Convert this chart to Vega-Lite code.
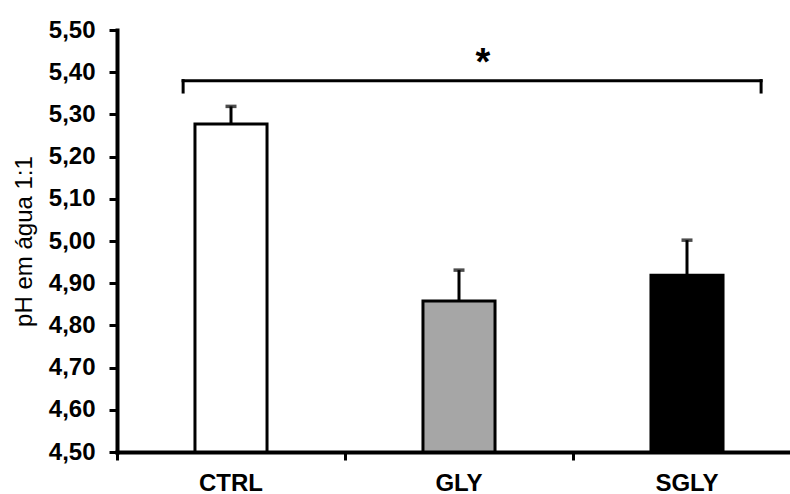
{
  "$schema": "https://vega.github.io/schema/vega-lite/v6.json",
  "width": 673,
  "height": 422,
  "autosize": {"type": "none"},
  "padding": {"left": 117, "top": 30, "right": 0, "bottom": 42},
  "background": "white",
  "config": {
    "view": {"stroke": null},
    "font": "Liberation Sans",
    "locale": {"number": {"decimal": ",", "thousands": ".", "grouping": [3], "currency": ["R$", ""]}},
    "axis": {
      "domainColor": "black", "domainWidth": 4, "domainCap": "square",
      "tickColor": "black", "tickWidth": 3, "tickSize": 8,
      "labelFont": "Liberation Sans", "labelFontSize": 24, "labelFontWeight": "bold",
      "labelColor": "black", "grid": false
    }
  },
  "datasets": {
    "bars": [
      {"group": "CTRL", "ph": 5.277, "upper": 5.319},
      {"group": "GLY", "ph": 4.858, "upper": 4.931},
      {"group": "SGLY", "ph": 4.919, "upper": 5.002}
    ],
    "sig": [
      {"from": "CTRL", "to": "SGLY", "mid": "GLY", "y": 5.38, "y_end": 5.353, "ystar": 5.42, "label": "*"}
    ]
  },
  "layer": [
    {
      "data": {"name": "bars"},
      "mark": {"type": "bar", "width": {"band": 0.316}, "stroke": "black", "strokeWidth": 3},
      "encoding": {
        "x": {
          "field": "group", "type": "nominal", "sort": null,
          "scale": {"range": [0, 684], "paddingInner": 0, "paddingOuter": 0},
          "axis": {"title": null, "labelAngle": 0, "bandPosition": 0, "labelPadding": 11}
        },
        "y": {
          "field": "ph", "type": "quantitative",
          "scale": {"domain": [4.5, 5.5], "zero": false, "nice": false},
          "axis": {
            "title": "pH em água 1:1",
            "values": [4.5, 4.6, 4.7, 4.8, 4.9, 5.0, 5.1, 5.2, 5.3, 5.4, 5.5],
            "format": ".2f",
            "labelPadding": 14,
            "titleFont": "Liberation Sans", "titleFontSize": 24, "titleFontWeight": "normal",
            "titleColor": "black", "titlePadding": 12
          }
        },
        "y2": {"datum": 4.5},
        "fill": {
          "field": "group", "type": "nominal",
          "scale": {"domain": ["CTRL", "GLY", "SGLY"], "range": ["white", "#a6a6a6", "black"]},
          "legend": null
        }
      }
    },
    {
      "data": {"name": "bars"},
      "mark": {"type": "rule", "color": "black", "strokeWidth": 3},
      "encoding": {
        "x": {"field": "group", "type": "nominal", "sort": null},
        "y": {"field": "ph", "type": "quantitative"},
        "y2": {"field": "upper"}
      }
    },
    {
      "data": {"name": "bars"},
      "mark": {"type": "tick", "color": "black", "size": 11, "thickness": 3.5, "orient": "horizontal"},
      "encoding": {
        "x": {"field": "group", "type": "nominal", "sort": null},
        "y": {"field": "upper", "type": "quantitative"}
      }
    },
    {
      "data": {"name": "sig"},
      "mark": {"type": "rule", "color": "black", "strokeWidth": 3, "strokeCap": "square"},
      "encoding": {
        "x": {"field": "from", "type": "nominal", "bandPosition": 0.29},
        "x2": {"field": "to", "bandPosition": 0.825},
        "y": {"field": "y", "type": "quantitative"}
      }
    },
    {
      "data": {"name": "sig"},
      "mark": {"type": "rule", "color": "black", "strokeWidth": 3, "strokeCap": "square"},
      "encoding": {
        "x": {"field": "from", "type": "nominal", "bandPosition": 0.29},
        "y": {"field": "y", "type": "quantitative"},
        "y2": {"field": "y_end"}
      }
    },
    {
      "data": {"name": "sig"},
      "mark": {"type": "rule", "color": "black", "strokeWidth": 3, "strokeCap": "square"},
      "encoding": {
        "x": {"field": "to", "type": "nominal", "bandPosition": 0.825},
        "y": {"field": "y", "type": "quantitative"},
        "y2": {"field": "y_end"}
      }
    },
    {
      "data": {"name": "sig"},
      "mark": {"type": "text", "color": "black", "fontSize": 38, "fontWeight": "bold", "font": "Liberation Sans", "baseline": "middle", "align": "center"},
      "encoding": {
        "x": {"field": "mid", "type": "nominal", "bandPosition": 0.605},
        "y": {"field": "ystar", "type": "quantitative"},
        "text": {"field": "label"}
      }
    }
  ]
}
